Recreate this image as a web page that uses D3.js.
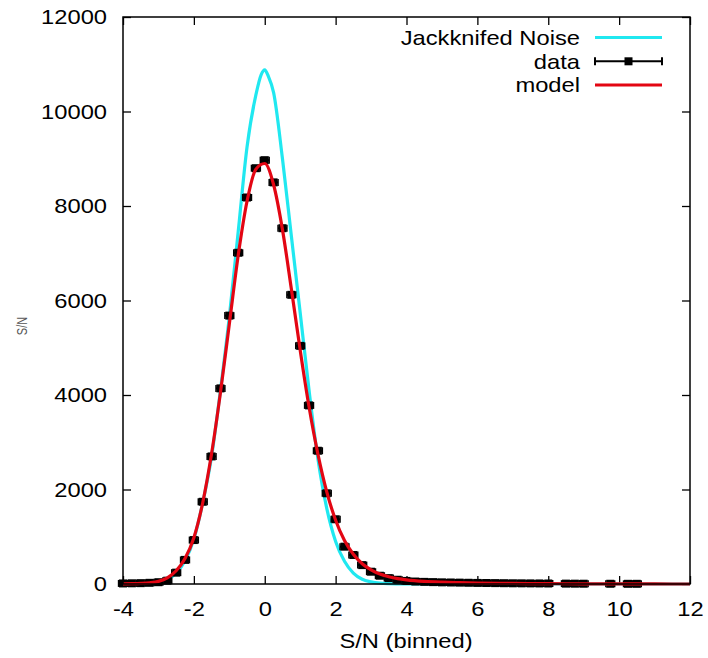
<!DOCTYPE html>
<html><head><meta charset="utf-8">
<script src="https://cdn.jsdelivr.net/npm/d3@7"></script>
<style>body{margin:0;background:#fff}</style>
</head><body><svg id="c" width="708" height="658"></svg>
<script>
// ---- data ----
const binX = [-4,-3.75,-3.5,-3.25,-3,-2.75,-2.5,-2.25,-2,-1.75,-1.5,-1.25,-1,-0.75,-0.5,-0.25,0,0.25,0.5,0.75,1,1.25,1.5,1.75,2,2.25,2.5,2.75,3,3.25,3.5,3.75,4,4.25,4.5,4.75,5,5.25,5.5,5.75,6,6.25,6.5,6.75,7,7.25,7.5,7.75,8,8.5,8.75,9,9.75,10.25,10.5];
const dataY = [12,15,18,25,38,70,240,510,930,1740,2700,4140,5680,7010,8180,8800,8970,8500,7530,6120,5040,3780,2820,1920,1370,790,614,400,260,175,125,90,65,52,45,40,35,32,29,26,23,21,19,17,15,14,13,12,11,8,7,6,5,4,4];
const binHalfWidth = 0.125;

const modelX = [-4,-3.75,-3.5,-3.25,-3,-2.75,-2.5,-2.25,-2,-1.75,-1.5,-1.25,-1,-0.75,-0.5,-0.25,0,0.25,0.5,0.75,1,1.25,1.5,1.75,2,2.25,2.5,2.75,3,3.25,3.5,3.75,4,4.5,5,5.5,6,7,8,9,10,11,12];
const modelY = [3,6,12,25,55,130,280,540,980,1720,2760,4050,5500,6950,8100,8780,8900,8450,7500,6250,4950,3750,2750,1950,1350,920,630,430,300,210,155,115,88,55,38,28,20,12,7,4,2,1,0];

const noiseX = [-4,-3.75,-3.5,-3.25,-3,-2.75,-2.5,-2.25,-2,-1.75,-1.5,-1.25,-1,-0.75,-0.5,-0.25,-0.1,0,0.1,0.25,0.5,0.75,1,1.25,1.5,1.75,2,2.25,2.5,2.75,3,3.25,3.5,3.75,4,4.25,4.5,5,6,8,10,12];
const noiseY = [0,0,3,12,35,95,230,490,950,1720,2700,4100,5650,7450,9250,10350,10780,10880,10750,10400,9000,7370,5740,4100,2650,1600,900,480,230,100,45,18,7,3,1,0,0,0,0,0,0,0];

const xTicks = [-4,-2,0,2,4,6,8,10,12];
const yTicks = [0,2000,4000,6000,8000,10000,12000];
const legendLabels = ["Jackknifed Noise","data","model"];
const xTitle = "S/N (binned)";
const yTitle = "S/N";

// ---- drawing ----
const svg = d3.select("#c");
const L = 123, R = 690, T = 17, B = 584;
const FONT = "'Liberation Sans', Arial, Helvetica, sans-serif";
const SX = 1.13;
const cyan = "#20e8f0", red = "#e30613";
const fmt = d => String(d);

const x = d3.scaleLinear().domain([-4,12]).range([L,R]);
const y = d3.scaleLinear().domain([0,12000]).range([B,T]);

function styleAxis(g){
  g.select(".domain").remove();
  g.selectAll(".tick line").attr("stroke","#000").attr("stroke-width",1.3);
  g.selectAll(".tick text").attr("font-family",FONT).attr("font-size",21).attr("fill","#000");
}

// bottom axis
const gx = svg.append("g").attr("transform",`translate(0,${B})`)
  .call(d3.axisBottom(x).tickValues(xTicks).tickSize(-8).tickPadding(17).tickFormat(fmt));
styleAxis(gx);
gx.selectAll(".tick text").attr("transform",`scale(${SX},1)`);
// top axis (mirror ticks, no labels)
const gt = svg.append("g").attr("transform",`translate(0,${T})`)
  .call(d3.axisTop(x).tickValues(xTicks).tickSize(-8).tickFormat(""));
styleAxis(gt);
// left axis
const gy = svg.append("g").attr("transform",`translate(${L},0)`)
  .call(d3.axisLeft(y).tickValues(yTicks).tickSize(-8).tickPadding(16).tickFormat(fmt));
styleAxis(gy);
gy.selectAll(".tick text").attr("transform",`scale(${SX},1)`).attr("x",-16/SX);
// right axis (mirror)
const gr = svg.append("g").attr("transform",`translate(${R},0)`)
  .call(d3.axisRight(y).tickValues(yTicks).tickSize(-8).tickFormat(""));
styleAxis(gr);

// curves
const noiseLine = d3.line().x((d,i)=>x(noiseX[i])).y(d=>y(d)).curve(d3.curveMonotoneX);
svg.append("path").attr("d",noiseLine(noiseY)).attr("fill","none").attr("stroke",cyan).attr("stroke-width",3.2).attr("stroke-linejoin","round");

// data with x error bars
const dg = svg.append("g");
binX.forEach((bx,i)=>{
  const cy = y(dataY[i]);
  const x0 = x(bx-binHalfWidth), x1 = x(bx+binHalfWidth);
  dg.append("line").attr("x1",x0).attr("x2",x1).attr("y1",cy).attr("y2",cy).attr("stroke","#000").attr("stroke-width",2);
  dg.append("line").attr("x1",x0).attr("x2",x0).attr("y1",cy-3.5).attr("y2",cy+3.5).attr("stroke","#000").attr("stroke-width",1.5);
  dg.append("line").attr("x1",x1).attr("x2",x1).attr("y1",cy-3.5).attr("y2",cy+3.5).attr("stroke","#000").attr("stroke-width",1.5);
  dg.append("rect").attr("x",x(bx)-4).attr("y",cy-4).attr("width",8).attr("height",8).attr("fill","#000");
});

const modelLine = d3.line().x((d,i)=>x(modelX[i])).y(d=>y(d)).curve(d3.curveMonotoneX);
svg.append("path").attr("d",modelLine(modelY)).attr("fill","none").attr("stroke",red).attr("stroke-width",3.2).attr("stroke-linejoin","round");

// frame
svg.append("rect").attr("x",L).attr("y",T).attr("width",R-L).attr("height",B-T)
  .attr("fill","none").attr("stroke","#000").attr("stroke-width",1.5);

// legend
const rowsY = [37.5, 61.3, 85];
const lx0 = 595, lx1 = 662, textRight = 580;
legendLabels.forEach((lab,i)=>{
  const cy = rowsY[i];
  svg.append("text").attr("x",textRight/SX).attr("y",cy+7.5).attr("transform",`scale(${SX},1)`)
    .attr("text-anchor","end").attr("font-family",FONT).attr("font-size",21).attr("fill","#000").text(lab);
  if(i===0){
    svg.append("line").attr("x1",lx0).attr("x2",lx1).attr("y1",cy).attr("y2",cy).attr("stroke",cyan).attr("stroke-width",3.2);
  } else if(i===1){
    svg.append("line").attr("x1",lx0).attr("x2",lx1).attr("y1",cy).attr("y2",cy).attr("stroke","#000").attr("stroke-width",2);
    svg.append("line").attr("x1",lx0).attr("x2",lx0).attr("y1",cy-4).attr("y2",cy+4).attr("stroke","#000").attr("stroke-width",2);
    svg.append("line").attr("x1",lx1).attr("x2",lx1).attr("y1",cy-4).attr("y2",cy+4).attr("stroke","#000").attr("stroke-width",2);
    svg.append("rect").attr("x",(lx0+lx1)/2-4).attr("y",cy-4).attr("width",8).attr("height",8).attr("fill","#000");
  } else {
    svg.append("line").attr("x1",lx0).attr("x2",lx1).attr("y1",cy).attr("y2",cy).attr("stroke",red).attr("stroke-width",3.2);
  }
});

// axis titles
svg.append("text").attr("x",406/SX).attr("y",648).attr("transform",`scale(${SX},1)`)
  .attr("text-anchor","middle").attr("font-family",FONT).attr("font-size",21).attr("fill","#000").text(xTitle);
svg.append("text").attr("transform","translate(27,326) scale(1.3,1) rotate(-90)")
  .attr("text-anchor","middle").attr("font-family",FONT).attr("font-size",11).attr("fill","#555").text(yTitle);
</script>
</body></html>
